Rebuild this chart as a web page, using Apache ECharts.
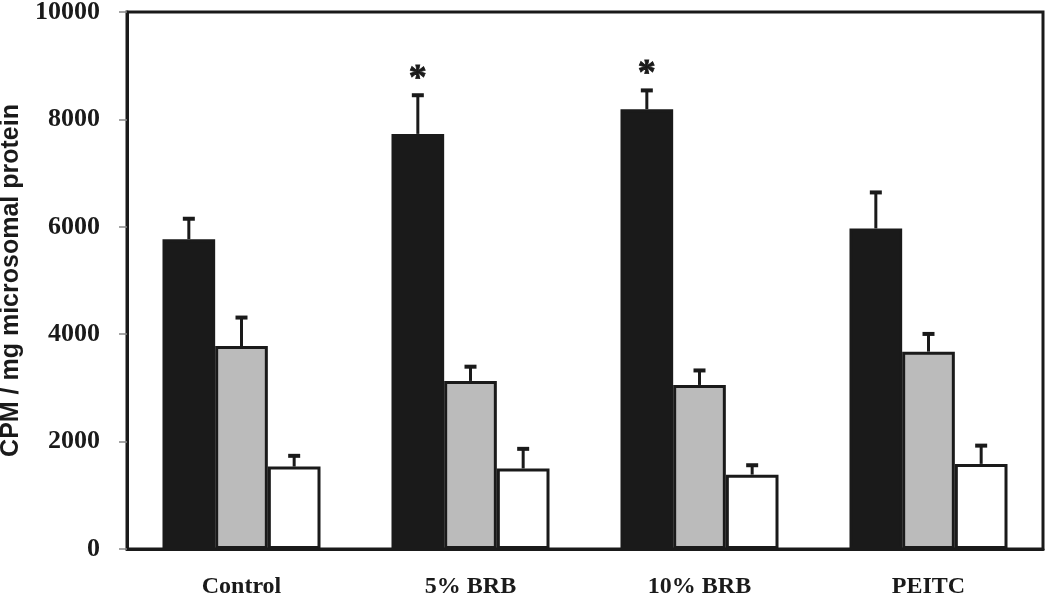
<!DOCTYPE html>
<html><head><meta charset="utf-8">
<script src="https://cdn.jsdelivr.net/npm/echarts@6/dist/echarts.min.js"></script>
<style>html,body{margin:0;padding:0;background:#fff}#c{width:1050px;height:604px}</style>
</head><body><div id="c"></div>
<script>
var categories = ['Control', '5% BRB', '10% BRB', 'PEITC'];
var blackVals = [5770, 7730, 8190, 5970];
var blackErr  = [380, 720, 350, 670];
var grayVals  = [3780, 3130, 3055, 3675];
var grayErr   = [530, 265, 270, 330];
var whiteVals = [1535, 1500, 1385, 1585];
var whiteErr  = [200, 365, 175, 340];
var sigMarks  = ['', '*', '*', ''];
var yTicks = [0, 2000, 4000, 6000, 8000, 10000];

var chart = echarts.init(document.getElementById('c'));
var INK = '#1a1a1a';
var CAT_GAP = 0.31;
var seriesDefs = [
  {name: 'A', vals: blackVals, err: blackErr, color: INK},
  {name: 'B', vals: grayVals, err: grayErr, color: '#bbbbbb'},
  {name: 'C', vals: whiteVals, err: whiteErr, color: '#ffffff'}
];
var series = [];
seriesDefs.forEach(function (s, si) {
  series.push({
    type: 'bar', name: s.name, data: s.vals,
    barGap: '0%', barCategoryGap: '31%',
    itemStyle: {color: s.color, borderColor: INK, borderWidth: 3},
    silent: true, z: 2
  });
});
seriesDefs.forEach(function (s, si) {
  series.push({
    type: 'custom', name: s.name + 'err',
    data: s.vals.map(function (v, i) { return [i, v, v + s.err[i], si === 0 ? sigMarks[i] : '']; }),
    z: 3, silent: true,
    renderItem: function (params, api) {
      var ci = api.value(0);
      var base = api.coord([ci, api.value(1)]);
      var top = api.coord([ci, api.value(2)]);
      var catW = api.size([1, 0])[0];
      var barW = catW * (1 - CAT_GAP) / 3;
      var x = base[0] + (si - 1) * barW;
      var children = [
        {type: 'line', shape: {x1: x, y1: base[1], x2: x, y2: top[1]}, style: {stroke: INK, lineWidth: 3}},
        {type: 'line', shape: {x1: x - 6, y1: top[1], x2: x + 6, y2: top[1]}, style: {stroke: INK, lineWidth: 4}}
      ];
      var mark = api.value(3);
      if (mark && mark !== '-') {
        children.push({type: 'text', x: x, y: top[1] - 16, style: {
          text: String(mark), font: 'bold 36px "Liberation Serif", serif', fill: INK,
          stroke: INK, lineWidth: 0.8,
          align: 'center', verticalAlign: 'middle'}});
      }
      return {type: 'group', children: children};
    },
    dimensions: ['x', 'y', 'top', 'mark'],
    encode: {x: 0, y: 1}
  });
});

chart.setOption({
  animation: false,
  backgroundColor: '#ffffff',
  grid: {left: 127, right: 7, top: 12, bottom: 55, outerBoundsMode: 'none', containLabel: false,
         show: true, borderColor: INK, borderWidth: 3, backgroundColor: 'transparent'},
  xAxis: {
    type: 'category', data: categories,
    axisTick: {show: false},
    axisLine: {lineStyle: {color: INK, width: 3}},
    axisLabel: {color: INK, fontFamily: '"Liberation Serif", serif', fontWeight: 'bold', fontSize: 24, margin: 26}
  },
  yAxis: {
    type: 'value', min: yTicks[0], max: yTicks[yTicks.length - 1], interval: 2000,
    name: 'CPM / mg microsomal protein', nameLocation: 'middle', nameGap: 97,
    nameTextStyle: {color: INK, fontFamily: '"Liberation Sans", Arial, sans-serif', fontWeight: 'bold', fontSize: 25},
    splitLine: {show: false},
    axisLine: {show: true, lineStyle: {color: INK, width: 3}},
    axisTick: {show: true, length: 8, lineStyle: {color: '#888888', width: 1.5}},
    axisLabel: {color: INK, fontFamily: '"Liberation Serif", serif', fontWeight: 'bold', fontSize: 26, margin: 27,
                formatter: function (v) { return String(v); }}
  },
  series: series
});
</script></body></html>
